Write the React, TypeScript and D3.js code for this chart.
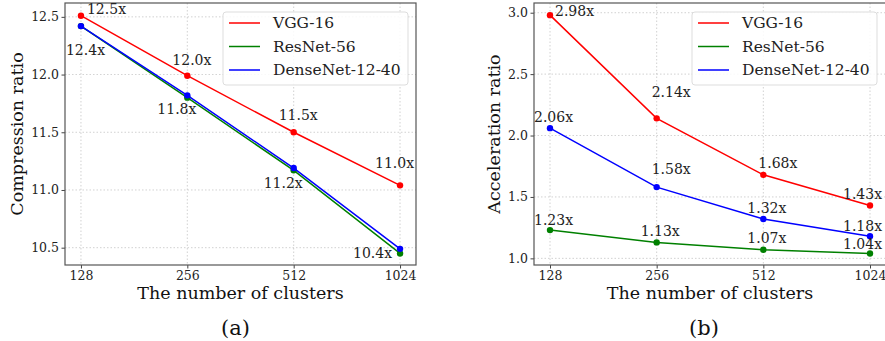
import React, { useEffect, useRef } from 'react'
import * as d3 from 'd3'

const clusters = [128, 256, 512, 1024]
const seriesNames = ['VGG-16', 'ResNet-56', 'DenseNet-12-40']
const seriesColors = ['#ff0000', '#008000', '#0000ff']

// (a) compression ratio
const vggCompression = [12.51, 11.99, 11.5, 11.04]
const resnetCompression = [12.42, 11.8, 11.17, 10.45]
const densenetCompression = [12.42, 11.82, 11.19, 10.49]
const compressionTicks = [10.5, 11.0, 11.5, 12.0, 12.5]
const vggCompressionLabels = ['12.5x', '12.0x', '11.5x', '11.0x']
const resnetCompressionLabels = ['12.4x', '11.8x', '11.2x', '10.4x']

// (b) acceleration ratio
const vggAcceleration = [2.98, 2.14, 1.68, 1.43]
const resnetAcceleration = [1.23, 1.13, 1.07, 1.04]
const densenetAcceleration = [2.06, 1.58, 1.32, 1.18]
const accelerationTicks = [1.0, 1.5, 2.0, 2.5, 3.0]
const vggAccelerationLabels = ['2.98x', '2.14x', '1.68x', '1.43x']
const resnetAccelerationLabels = ['1.23x', '1.13x', '1.07x', '1.04x']
const densenetAccelerationLabels = ['2.06x', '1.58x', '1.32x', '1.18x']

const FONT = 'DejaVu Serif'

type Panel = {
  left: number
  right: number
  yDomain: [number, number]
  ticks: number[]
  series: number[][]
  labels: { series: number; text: string[]; off: [number, number][] }[]
  legendX: number
  yTitle: string
  yTitleOff: number
  caption: string
  captionOff: number
}

const panels: Panel[] = [
  {
    left: 65,
    right: 416,
    yDomain: [10.35, 12.62],
    ticks: compressionTicks,
    series: [vggCompression, resnetCompression, densenetCompression],
    labels: [
      { series: 0, text: vggCompressionLabels, off: [[6, -7], [-15, -16], [-15, -17], [-25, -22]] },
      { series: 1, text: resnetCompressionLabels, off: [[-15, 24], [-30, 11], [-30, 13], [-47, 0]] },
    ],
    legendX: 223,
    yTitle: 'Compression ratio',
    yTitleOff: 48,
    caption: '(a)',
    captionOff: -5,
  },
  {
    left: 534,
    right: 886,
    yDomain: [0.946, 3.079],
    ticks: accelerationTicks,
    series: [vggAcceleration, resnetAcceleration, densenetAcceleration],
    labels: [
      { series: 0, text: vggAccelerationLabels, off: [[5, -4], [-5, -26], [-5, -12], [-27, -12]] },
      { series: 2, text: densenetAccelerationLabels, off: [[-16, -11], [-5, -18], [-16, -11], [-27, -10]] },
      { series: 1, text: resnetAccelerationLabels, off: [[-16, -10], [-16, -11], [-16, -12], [-27, -9]] },
    ],
    legendX: 692,
    yTitle: 'Acceleration ratio',
    yTitleOff: 40,
    caption: '(b)',
    captionOff: -6,
  },
]

function App() {
  const svgRef = useRef<SVGSVGElement>(null)

  useEffect(() => {
    const width = 885
    const height = 341
    const top = 3
    const bottom = 265
    const svg = d3.select(svgRef.current)
      .attr('width', width)
      .attr('height', height)
      .style('background', '#fff')
      .style('display', 'block')
    svg.selectAll('*').remove()

    panels.forEach((p) => {
      const g = svg.append('g')
      // log2 x axis, 5% margins each side
      const xScale = d3.scaleLog().base(2)
        .domain([128 / Math.pow(2, 0.15), 1024 * Math.pow(2, 0.15)])
        .range([p.left, p.right])
      const yScale = d3.scaleLinear().domain(p.yDomain).range([bottom, top])

      // grid
      g.selectAll('.gx').data(clusters).join('line')
        .attr('x1', d => xScale(d)).attr('x2', d => xScale(d))
        .attr('y1', top).attr('y2', bottom)
        .attr('stroke', '#b0b0b0').attr('stroke-width', 0.8)
        .attr('stroke-dasharray', '1.5,2').attr('opacity', 0.7)
      g.selectAll('.gy').data(p.ticks).join('line')
        .attr('x1', p.left).attr('x2', p.right)
        .attr('y1', d => yScale(d)).attr('y2', d => yScale(d))
        .attr('stroke', '#b0b0b0').attr('stroke-width', 0.8)
        .attr('stroke-dasharray', '1.5,2').attr('opacity', 0.7)

      // axes
      const xAxis = d3.axisBottom(xScale).tickValues(clusters).tickFormat(d => String(d)).tickSize(3.5).tickSizeOuter(0)
      const yAxis = d3.axisLeft(yScale).tickValues(p.ticks).tickFormat(d3.format('.1f')).tickSize(3.5).tickPadding(2.5).tickSizeOuter(0)
      const xg = g.append('g').attr('transform', `translate(0,${bottom})`).call(xAxis)
      const yg = g.append('g').attr('transform', `translate(${p.left},0)`).call(yAxis)
      ;[xg, yg].forEach(a => {
        a.select('.domain').remove()
        a.selectAll('line').attr('stroke', '#444')
        a.selectAll('text').attr('fill', '#222').style('font-family', FONT).style('font-size', '12.5px')
      })
      xg.selectAll('text').attr('y', 11).attr('dy', '0.35em')

      // frame
      g.append('rect')
        .attr('x', p.left).attr('y', top)
        .attr('width', p.right - p.left).attr('height', bottom - top)
        .attr('fill', 'none').attr('stroke', '#555').attr('stroke-width', 1.2)

      // lines & markers
      const line = d3.line<number>().x((_, i) => xScale(clusters[i])).y(d => yScale(d))
      p.series.forEach((vals, si) => {
        g.append('path').datum(vals).attr('d', line)
          .attr('fill', 'none').attr('stroke', seriesColors[si]).attr('stroke-width', 1.5)
        g.selectAll(`.m${si}`).data(vals).join('circle')
          .attr('cx', (_, i) => xScale(clusters[i])).attr('cy', d => yScale(d))
          .attr('r', 3.2).attr('fill', seriesColors[si])
      })

      // value labels
      p.labels.forEach(lb => {
        lb.text.forEach((t, i) => {
          g.append('text')
            .attr('x', xScale(clusters[i]) + lb.off[i][0])
            .attr('y', yScale(p.series[lb.series][i]) + lb.off[i][1])
            .attr('dominant-baseline', 'central')
            .style('font-family', FONT).style('font-size', '14px').attr('fill', '#222')
            .text(t)
        })
      })

      // legend
      const lg = g.append('g').attr('transform', `translate(${p.legendX},12)`)
      lg.append('rect').attr('width', 185).attr('height', 73).attr('rx', 3)
        .attr('fill', '#fff').attr('fill-opacity', 0.85).attr('stroke', '#ddd')
      seriesNames.forEach((n, i) => {
        const yy = 11 + i * 23.5
        lg.append('line').attr('x1', 6).attr('x2', 37).attr('y1', yy).attr('y2', yy)
          .attr('stroke', seriesColors[i]).attr('stroke-width', 1.5)
        lg.append('text').attr('x', 50).attr('y', yy).attr('dominant-baseline', 'central')
          .style('font-family', FONT).style('font-size', '15.5px').attr('fill', '#222').text(n)
      })

      // titles
      const cx = (p.left + p.right) / 2
      g.append('text').attr('x', cx).attr('y', 293).attr('text-anchor', 'middle')
        .attr('dominant-baseline', 'central')
        .style('font-family', FONT).style('font-size', '17.5px').attr('fill', '#111')
        .text('The number of clusters')
      g.append('text')
        .attr('transform', `translate(${p.left - p.yTitleOff},${(top + bottom) / 2}) rotate(-90)`)
        .attr('text-anchor', 'middle').attr('dominant-baseline', 'central')
        .style('font-family', FONT).style('font-size', '17.5px').attr('fill', '#111')
        .text(p.yTitle)
      g.append('text').attr('x', cx + p.captionOff).attr('y', 328).attr('text-anchor', 'middle')
        .attr('dominant-baseline', 'central')
        .style('font-family', FONT).style('font-size', '21px').attr('fill', '#111')
        .text(p.caption)
    })
  }, [])

  return <svg ref={svgRef} style={{ position: 'absolute', left: 0, top: 0 }}></svg>
}

export default App
